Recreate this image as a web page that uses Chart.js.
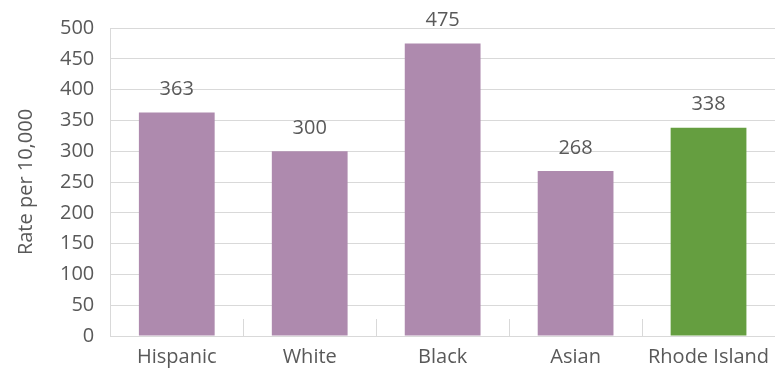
<!DOCTYPE html>
<html>
<head>
<meta charset="utf-8">
<script src="https://cdn.jsdelivr.net/npm/chart.js@4.4.1/dist/chart.umd.min.js"></script>
<style>
  html, body { margin: 0; padding: 0; background: #fff; }
  #wrap { width: 775px; height: 370px; }
</style>
</head>
<body>
<div id="wrap"><canvas id="myChart"></canvas></div>
<script>
const categories = ['Hispanic', 'White', 'Black', 'Asian', 'Rhode Island'];
const rates = [363, 300, 475, 268, 338];
const barColors = ['#AE8AAE', '#AE8AAE', '#AE8AAE', '#AE8AAE', '#659E40'];

const textColor = '#595959';
const fontFamily = '"Open Sans", "Noto Sans", sans-serif';

// value labels above each bar
const barLabels = {
    id: 'barLabels',
    afterDatasetsDraw(chart) {
        const ctx = chart.ctx;
        const meta = chart.getDatasetMeta(0);
        ctx.save();
        ctx.font = '20px ' + fontFamily;
        ctx.fillStyle = textColor;
        ctx.textAlign = 'center';
        ctx.textBaseline = 'bottom';
        meta.data.forEach((bar, i) => {
            ctx.fillText(rates[i], bar.x, bar.y - 13);
        });
        ctx.restore();
    }
};

// short upward tick marks between categories, like the original
const catTicks = {
    id: 'catTicks',
    afterDraw(chart) {
        const ctx = chart.ctx;
        const x = chart.scales.x;
        const y0 = chart.scales.y.getPixelForValue(0);
        const half = (x.getPixelForValue(1) - x.getPixelForValue(0)) / 2;
        ctx.save();
        ctx.strokeStyle = '#d9d9d9';
        ctx.lineWidth = 1;
        for (let i = 0; i < categories.length - 1; i++) {
            const px = Math.round(x.getPixelForValue(i) + half) + 0.5;
            ctx.beginPath();
            ctx.moveTo(px, y0);
            ctx.lineTo(px, y0 - 17);
            ctx.stroke();
        }
        ctx.restore();
    }
};

const ctx = document.getElementById('myChart').getContext('2d');
const rateChart = new Chart(ctx, {
    type: 'bar',
    data: {
        labels: categories,
        datasets: [{
            data: rates,
            backgroundColor: barColors,
            barPercentage: 0.57,
            categoryPercentage: 1.0
        }]
    },
    plugins: [barLabels, catTicks],
    options: {
        responsive: true,
        maintainAspectRatio: false,
        animation: false,
        layout: {
            padding: { top: 12, right: 0, left: 14, bottom: 0 }
        },
        plugins: {
            legend: { display: false },
            tooltip: { enabled: false }
        },
        scales: {
            x: {
                grid: { display: false },
                border: { color: '#d9d9d9', width: 1 },
                ticks: {
                    color: textColor,
                    font: { family: fontFamily, size: 20 },
                    padding: 1
                }
            },
            y: {
                min: 0,
                max: 500,
                grid: {
                    color: '#d9d9d9',
                    drawTicks: false
                },
                border: { color: '#d9d9d9', width: 1 },
                ticks: {
                    stepSize: 50,
                    color: textColor,
                    font: { family: fontFamily, size: 20 },
                    padding: 16
                },
                title: {
                    display: true,
                    text: 'Rate per 10,000',
                    color: textColor,
                    font: { family: fontFamily, size: 20 },
                    padding: { top: 0, bottom: 6 }
                }
            }
        }
    }
});
</script>
</body>
</html>
